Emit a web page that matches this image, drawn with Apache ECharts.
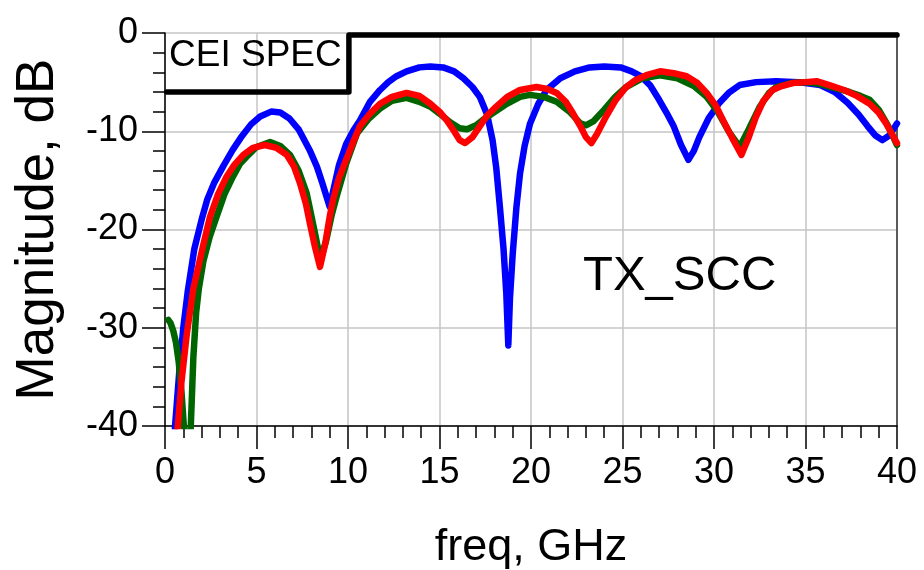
<!DOCTYPE html>
<html>
<head>
<meta charset="utf-8">
<script src="https://cdn.jsdelivr.net/npm/echarts@6/dist/echarts.min.js"></script>
<style>
html,body{margin:0;padding:0;background:#fff;}
#chart{width:924px;height:570px;}
</style>
</head>
<body>
<div id="chart"></div>
<script>
// ---- data ----
const xTicks = [0, 5, 10, 15, 20, 25, 30, 35, 40];
const yTicks = [-40, -30, -20, -10, 0];

const blueFreq = [0.4,0.55,0.8,1.0,1.25,1.6,2.0,2.3,2.7,3.2,3.7,4.2,4.7,5.2,5.8,6.3,6.8,7.3,7.9,8.3,8.6,8.85,9.0,9.2,9.5,9.9,10.3,10.65,11.2,11.75,12.2,12.65,13.2,13.9,14.5,15.2,15.8,16.3,16.8,17.2,17.6,17.9,18.1,18.3,18.5,18.65,18.76,18.85,19.0,19.2,19.4,19.65,19.95,20.4,20.85,21.6,22.4,23.2,24.0,24.9,25.5,26.0,26.5,27.0,27.4,27.8,28.2,28.6,28.9,29.2,29.7,30.3,30.8,31.4,32.3,33.4,34.6,35.8,36.6,37.3,37.9,38.4,38.8,39.2,39.6,40];
const blueDb = [-46,-40,-34,-30,-26.2,-22,-19,-17,-15.2,-13.5,-11.9,-10.5,-9.3,-8.5,-8.0,-8.1,-8.7,-9.8,-11.9,-13.6,-15.3,-16.8,-17.7,-16.0,-13.5,-11.3,-9.9,-8.9,-7.0,-5.8,-5.0,-4.4,-3.9,-3.5,-3.4,-3.5,-3.9,-4.6,-5.5,-6.5,-8.3,-10.9,-13.7,-17.7,-22,-26.5,-31.8,-27,-22.5,-17.8,-14.3,-11.5,-9.2,-7.2,-5.8,-4.6,-3.9,-3.5,-3.4,-3.5,-3.9,-4.4,-5.3,-6.8,-8.1,-9.5,-11.4,-12.9,-12.0,-10.6,-8.7,-7.1,-6.1,-5.3,-5.0,-4.9,-5.0,-5.3,-6.0,-7.1,-8.3,-9.5,-10.4,-10.9,-10.4,-9.2];

const greenFreq = [0.18,0.3,0.45,0.6,0.75,0.9,1.05,1.15,1.3,1.4,1.55,1.7,1.85,2.1,2.45,2.82,3.25,3.72,4.1,4.46,5.0,5.74,6.3,6.83,7.3,7.74,8.1,8.35,8.56,8.8,9.1,9.37,9.9,10.5,11.1,11.75,12.4,13.2,13.9,14.5,15.0,15.6,16.1,16.5,17.0,17.4,17.8,18.6,19.4,19.95,20.7,21.4,22.1,22.7,23.0,23.4,24.0,24.6,25.2,26.1,27.05,28.0,28.9,29.6,30.2,30.8,31.4,31.9,32.5,33.0,33.4,34.2,35.0,35.8,36.6,37.4,38.0,38.5,39.0,39.5,40];
const greenDb = [-29.2,-29.5,-30.3,-31.5,-33.5,-36.5,-40.5,-45,-45,-40.5,-33,-28.5,-26,-23.2,-20.7,-18.7,-16.4,-14.6,-13.3,-12.6,-11.6,-11.1,-11.5,-12.4,-14.0,-16.3,-19.5,-21.8,-22.6,-21.2,-18.6,-16.7,-13.3,-10.2,-8.8,-7.7,-6.9,-6.6,-7.0,-7.5,-8.2,-9.1,-9.7,-9.8,-9.4,-8.8,-8.3,-7.3,-6.5,-6.3,-6.5,-7.0,-8.0,-9.2,-9.4,-9.0,-7.8,-6.5,-5.5,-4.6,-4.3,-4.6,-5.4,-6.5,-8.0,-10.0,-11.6,-9.8,-7.5,-6.1,-5.5,-5.1,-5.0,-5.2,-5.6,-6.0,-6.4,-6.8,-7.8,-9.4,-11.4];

const redFreq = [0.45,0.7,0.9,1.2,1.55,2.1,2.46,2.9,3.37,3.8,4.28,4.8,5.46,6.1,6.65,7.05,7.38,7.7,7.92,8.2,8.47,8.75,9.0,9.18,9.5,9.9,10.3,10.65,11.2,11.75,12.4,13.2,13.9,14.5,15.0,15.4,15.8,16.1,16.4,16.8,17.2,17.6,18.1,18.7,19.4,20.3,20.9,21.4,21.9,22.3,22.7,23.0,23.3,23.6,24.1,24.6,25.2,25.7,26.3,27.05,27.8,28.5,29.1,29.6,30.1,30.5,31.0,31.5,31.9,32.3,32.7,33.2,33.7,34.3,35.0,35.6,36.3,37.1,37.8,38.5,39.0,39.4,39.7,40];
const redDb = [-46,-40,-35.5,-30.5,-26,-21.5,-18.7,-16.4,-14.6,-13.4,-12.4,-11.7,-11.4,-11.7,-12.4,-13.6,-15.3,-17.4,-19.4,-21.8,-23.8,-21.5,-18.7,-17.0,-14.8,-12.9,-11.0,-9.5,-8.2,-7.2,-6.5,-6.1,-6.4,-7.2,-8.0,-8.9,-10.0,-10.9,-11.2,-10.6,-9.5,-8.4,-7.5,-6.5,-5.8,-5.5,-5.7,-6.1,-7.0,-8.2,-9.5,-10.6,-11.2,-10.3,-8.5,-6.9,-5.5,-4.8,-4.3,-3.9,-4.1,-4.4,-5.1,-6.1,-7.4,-8.9,-10.7,-12.4,-10.6,-8.5,-6.9,-5.8,-5.4,-5.1,-5.0,-4.9,-5.3,-5.8,-6.4,-7.2,-8.1,-9.2,-10.2,-11.2];

const specFreq = [0.1, 10.05, 10.05, 40];
const specDb = [-6, -6, -0.2, -0.2];

const pair = (xs, ys) => xs.map((x, i) => [x, ys[i]]);

const chart = echarts.init(document.getElementById('chart'), null, {renderer: 'canvas'});
const FONT = 'Liberation Sans, Arial, sans-serif';

const lineSeries = (name, xs, ys, color, w) => ({
  name, type: 'line', data: pair(xs, ys), showSymbol: false, symbol: 'none',
  lineStyle: {color, width: w, cap: 'round', join: 'round'}, clip: true, z: 3
});

chart.setOption({
  animation: false,
  backgroundColor: '#ffffff',
  grid: {left: 165, right: 27, top: 33, bottom: 144, containLabel: false, outerBoundsMode: 'none'},
  xAxis: {
    type: 'value', min: xTicks[0], max: xTicks[xTicks.length - 1], interval: 5,
    name: 'freq, GHz', nameLocation: 'middle', nameGap: 99,
    nameTextStyle: {fontSize: 45, color: '#000', fontFamily: FONT},
    axisLine: {show: true, onZero: false, lineStyle: {color: '#000', width: 1.5}},
    axisTick: {show: true, inside: false, length: 23, lineStyle: {color: '#000', width: 1.5}},
    minorTick: {show: true, splitNumber: 5, length: 12, lineStyle: {color: '#000', width: 1.5}},
    axisLabel: {fontSize: 36, color: '#000', fontFamily: FONT, margin: 29},
    splitLine: {show: true, lineStyle: {color: '#c4c4c4', width: 1.5}}
  },
  yAxis: [{
    type: 'value', min: yTicks[0], max: yTicks[yTicks.length - 1], interval: 10,
    name: 'Magnitude, dB', nameLocation: 'middle', nameGap: 100,
    nameTextStyle: {fontSize: 53, color: '#000', fontFamily: FONT},
    axisLine: {show: true, onZero: false, lineStyle: {color: '#000', width: 1.5}},
    axisTick: {show: true, inside: false, length: 23, lineStyle: {color: '#000', width: 1.5}},
    minorTick: {show: true, splitNumber: 5, length: 12, lineStyle: {color: '#000', width: 1.5}},
    axisLabel: {fontSize: 36, color: '#000', fontFamily: FONT, margin: 27, padding: [0, 0, 8, 0]},
    splitLine: {show: true, lineStyle: {color: '#c4c4c4', width: 1.5}}
  }, {
    type: 'value', position: 'right', min: yTicks[0], max: yTicks[yTicks.length - 1], interval: 10,
    axisLine: {show: true, onZero: false, lineStyle: {color: '#333', width: 1.5}},
    axisTick: {show: false}, axisLabel: {show: false}, splitLine: {show: false}
  }],
  series: [
    lineSeries('CEI SPEC', specFreq, specDb, '#000000', 5.5),
    lineSeries('blue', blueFreq, blueDb, '#0000ff', 6.5),
    lineSeries('green', greenFreq, greenDb, '#006400', 6.5),
    lineSeries('red', redFreq, redDb, '#ff0000', 6.5)
  ],
  graphic: [
    {type: 'text', left: 169, top: 37, style: {text: 'CEI SPEC', fontSize: 37, fill: '#000', fontFamily: FONT}, z: 10},
    {type: 'text', left: 583, top: 252, style: {text: 'TX_SCC', fontSize: 49, fill: '#000', fontFamily: FONT}, z: 10}
  ]
});
</script>
</body>
</html>
